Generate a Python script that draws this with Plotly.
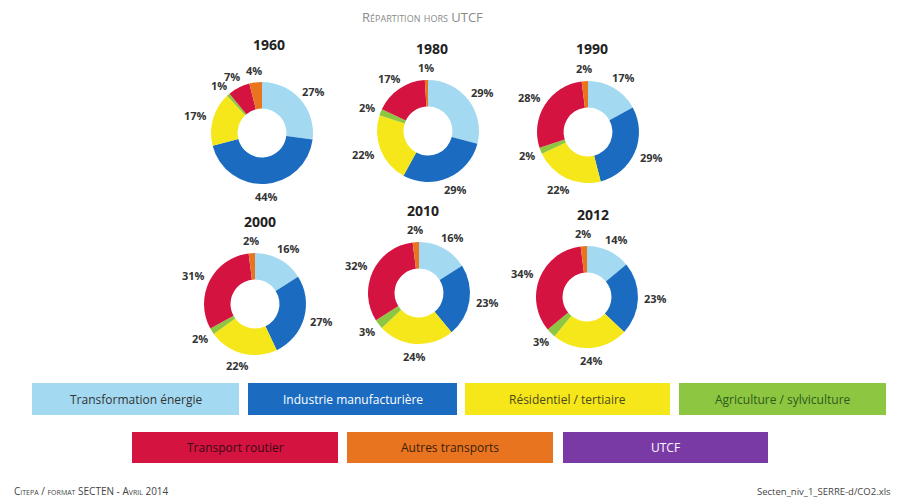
import math
import plotly.graph_objects as go

# ---- data ----
sectors = ["Transformation énergie", "Industrie manufacturière", "Résidentiel / tertiaire",
           "Agriculture / sylviculture", "Transport routier", "Autres transports", "UTCF"]
years = ["1960", "1980", "1990", "2000", "2010", "2012"]
v1960 = [27, 44, 17, 1, 7, 4, 0]
v1980 = [29, 29, 22, 2, 17, 1, 0]
v1990 = [17, 29, 22, 2, 28, 2, 0]
v2000 = [16, 27, 22, 2, 31, 2, 0]
v2010 = [16, 23, 24, 3, 32, 2, 0]
v2012 = [14, 23, 24, 3, 34, 2, 0]
values = [v1960, v1980, v1990, v2000, v2010, v2012]

colors = ["#a3d9f1", "#1b6cc1", "#f6e71a", "#8dc641", "#d41340", "#e9741f", "#7a3aa6"]
legend_text_colors = ["#333333", "#ffffff", "#4a4a1a", "#2f5a1a", "#3a0a12", "#3a2008", "#ffffff"]

# page body has an 8px margin: figure drawn at offset (8,8)
OFF = 8
W, H = 900 - OFF, 501 - OFF
# layout of donuts (pixel centers in the window), title positions
centers = [(262, 133), (428, 131), (588, 132), (255, 304), (419, 293), (587, 297)]
title_pos = [(269, 44), (432, 49), (592, 49), (260, 221), (423, 210), (593, 215)]
R = 51

fig = go.Figure()
annotations = []
shapes = []

def px2paper(x, y):
    return (x - OFF) / W, 1 - (y - OFF) / H

for vals, yr, (cx, cy), (tx, ty) in zip(values, years, centers, title_pos):
    x0, y1 = px2paper(cx - R, cy - R)
    x1, y0 = px2paper(cx + R, cy + R)
    fig.add_trace(go.Pie(
        labels=sectors, values=vals, sort=False, direction="clockwise", rotation=0,
        hole=0.48, textinfo="none", hoverinfo="label+value",
        marker=dict(colors=colors, line=dict(width=0)),
        domain=dict(x=[x0, x1], y=[y0, y1]), showlegend=False,
    ))
    # year title
    px, py = px2paper(tx, ty)
    annotations.append(dict(x=px, y=py, xref="paper", yref="paper", text="<b>%s</b>" % yr,
                            xanchor="center", yanchor="middle",
                            showarrow=False, font=dict(family="Open Sans", size=14, color="#222")))
    # percentage labels computed from data (placed around the ring)
    total = sum(vals)
    cum = 0
    for v in vals:
        if v <= 0:
            continue
        mid = (cum + v / 2) / total * 2 * math.pi
        cum += v
        s, c = math.sin(mid), math.cos(mid)
        txt = "%d%%" % v
        hw = 3.5 * len(txt) + 1.5
        lx = cx + (R + 6) * s + hw * s
        ly = cy - (R + 6) * c - 6.5 * c
        px, py = px2paper(lx, ly)
        annotations.append(dict(x=px, y=py, xref="paper", yref="paper", text="<b>%s</b>" % txt,
                                xanchor="center", yanchor="middle", showarrow=False,
                                font=dict(family="Open Sans", size=11, color="#333")))

# legend boxes
boxes = [(32, 383, 239, 415), (248, 383, 457, 415), (465, 383, 670, 415), (679, 383, 886, 415),
         (132, 432, 338, 463), (347, 432, 553, 463), (563, 432, 768, 463)]
for name, col, tcol, (bx0, by0, bx1, by1) in zip(sectors, colors, legend_text_colors, boxes):
    px0, py1 = px2paper(bx0, by0)
    px1, py0 = px2paper(bx1, by1)
    shapes.append(dict(type="rect", xref="paper", yref="paper", x0=px0, x1=px1, y0=py0, y1=py1,
                       fillcolor=col, line=dict(width=0), layer="below"))
    annotations.append(dict(x=(px0 + px1) / 2, y=(py0 + py1) / 2, xref="paper", yref="paper",
                            text=name, showarrow=False, xanchor="center", yanchor="middle",
                            font=dict(family="Open Sans", size=12, color=tcol)))

# title and footers
tx, ty = px2paper(422, 17)
annotations.append(dict(x=tx, y=ty, xref="paper", yref="paper", xanchor="center", yanchor="middle",
                        text="Répartition hors UTCF", showarrow=False,
                        font=dict(family="Open Sans", size=13, color="#8a8a8a", variant="small-caps")))
fx, fy = px2paper(12, 491)
annotations.append(dict(x=fx, y=fy, xref="paper", yref="paper", xanchor="left", yanchor="middle",
                        text="Citepa / format SECTEN - Avril 2014", showarrow=False,
                        font=dict(family="Open Sans", size=10, color="#444", variant="small-caps")))
fx, fy = px2paper(893, 491)
annotations.append(dict(x=fx, y=fy, xref="paper", yref="paper", xanchor="right", yanchor="middle",
                        text="Secten_niv_1_SERRE-d/CO2.xls", showarrow=False,
                        font=dict(family="Open Sans", size=9.5, color="#444")))

fig.update_layout(width=W, height=H, margin=dict(l=0, r=0, t=0, b=0),
                  paper_bgcolor="white", plot_bgcolor="white",
                  annotations=annotations, shapes=shapes, showlegend=False)
fig.write_html("out.html")
